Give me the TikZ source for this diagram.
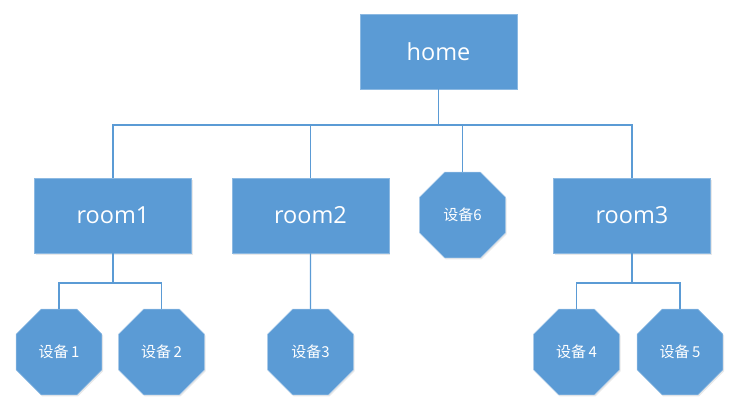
\documentclass[tikz,border=0pt]{standalone}
\usepackage{fontspec}
\setmainfont{Open Sans}
\newfontfamily\cjk{Noto Sans CJK SC}
\usetikzlibrary{shapes.geometric,shadows}
\definecolor{obl}{HTML}{5B9BD5}
\tikzset{
  x=1pt,y=-1pt,
  sh/.style={drop shadow={opacity=0.18,shadow xshift=1.2pt,shadow yshift=-1.5pt}},
  boxn/.style={sh,fill=obl,draw=obl!70!white,line width=0.5pt,minimum width=157pt,minimum height=75pt,inner sep=0pt,text=white,font=\fontsize{23.5}{26}\selectfont},
  octn/.style={sh,regular polygon,regular polygon sides=8,minimum size=93pt,fill=obl,draw=obl!60!white,line width=0.5pt,inner sep=0pt,text=white,font=\cjk\fontsize{15}{17}\selectfont},
  conn/.style={draw=obl,line width=1.2pt}
}
\begin{document}
\begin{tikzpicture}
\useasboundingbox (0,0) rectangle (742,412);
\node[boxn] (home) at (438.5,51.5) {home};
\node[boxn] (r1) at (113,215.5) {room1};
\node[boxn] (r2) at (310.5,215.5) {room2};
\node[boxn] (r3) at (632,215.5) {room3};
\node[octn] (d6) at (462.5,215) {设备6};
\node[octn] (d1) at (59,352) {设备\,1};
\node[octn] (d2) at (161.5,352) {设备\,2};
\node[octn] (d3) at (310.5,352) {设备3};
\node[octn] (d4) at (576.5,352) {设备\,4};
\node[octn] (d5) at (680,352) {设备\,5};
\coordinate (bus) at (0,125);
\coordinate (sb) at (0,283);
\draw[conn] (home.south) -- (home.south |- bus);
\draw[conn] (r1.north) -- (r1.north |- bus) -- (r3.north |- bus) -- (r3.north);
\draw[conn] (r2.north) -- (r2.north |- bus);
\draw[conn] (d6.north) -- (d6.north |- bus);
\draw[conn] (r1.south) -- (r1.south |- sb);
\draw[conn] (d1.north) -- (d1.north |- sb) -- (d2.north |- sb) -- (d2.north);
\draw[conn] (r2.south) -- (d3.north);
\draw[conn] (r3.south) -- (r3.south |- sb);
\draw[conn] (d4.north) -- (d4.north |- sb) -- (d5.north |- sb) -- (d5.north);
\end{tikzpicture}
\end{document}
